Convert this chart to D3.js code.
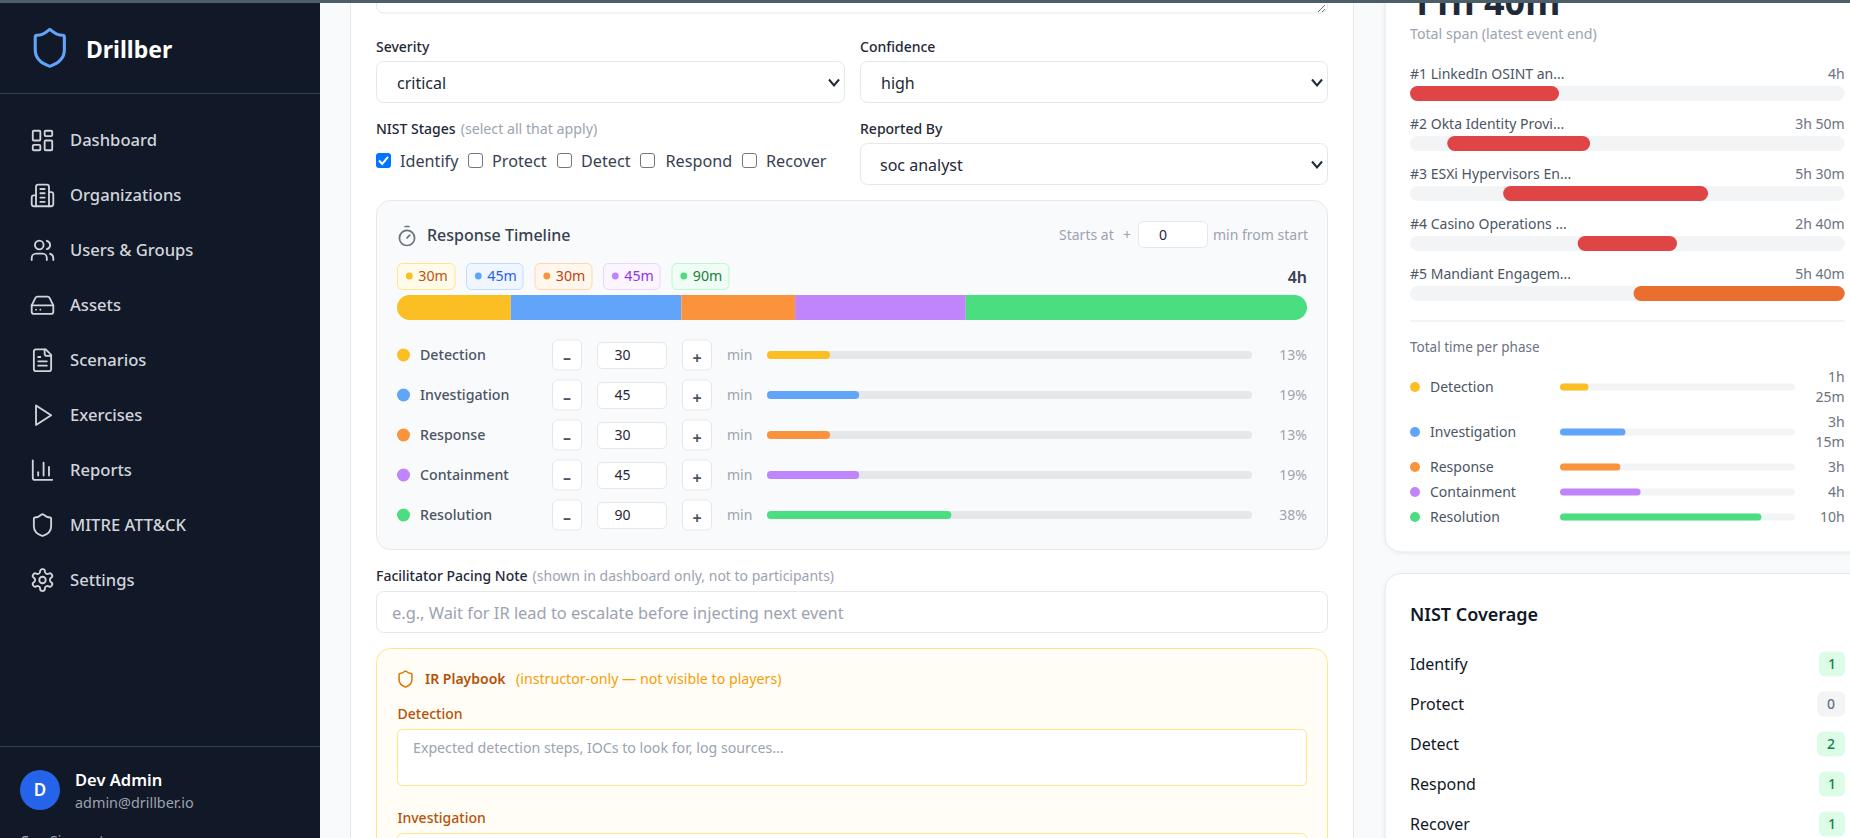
<!DOCTYPE html>
<html><head><meta charset="utf-8"><title>Drillber</title>
<script src="https://cdn.jsdelivr.net/npm/d3@7/dist/d3.min.js"></script>
<style>html,body{margin:0;padding:0;background:#f9fafb;overflow:hidden}svg{display:block}text{font-family:"Noto Sans",sans-serif}</style>
</head><body><div id="app"></div>
<script>
// ---- data ----
const navItems = ["Dashboard","Organizations","Users & Groups","Assets","Scenarios","Exercises","Reports","MITRE ATT&CK","Settings"];
const phases = ["Detection","Investigation","Response","Containment","Resolution"];
const phaseMinutes = [30,45,30,45,90];
const phaseChipLabels = ["30m","45m","30m","45m","90m"];
const phaseColors = ["#fbbf24","#60a5fa","#fb923c","#c084fc","#4ade80"];
const eventNames = ["#1 LinkedIn OSINT an...","#2 Okta Identity Provi...","#3 ESXi Hypervisors En...","#4 Casino Operations ...","#5 Mandiant Engagem..."];
const eventStarts = [0,60,150,270,360];
const eventDurations = [240,230,330,160,340];
const eventLabels = ["4h","3h 50m","5h 30m","2h 40m","5h 40m"];
const eventColors = ["#e04545","#e04545","#e04545","#e04545","#ea6e2e"];
const phaseTotals = [85,195,180,240,600];
const phaseTotalLabels = [["1h","25m"],["3h","15m"],["3h"],["4h"],["10h"]];
const nistStages = ["Identify","Protect","Detect","Respond","Recover"];
const nistCounts = [1,0,2,1,1];
const nistChecked = [true,false,false,false,false];

// ---- helpers ----
const svg = d3.select("#app").append("svg").attr("width",1850).attr("height",838).attr("viewBox","0 0 1850 838");
const defs = svg.append("defs");
function rect(x,y,w,h,o={}){return svg.append("rect").attr("x",x).attr("y",y).attr("width",w).attr("height",h)
  .attr("rx",o.r||0).attr("fill",o.fill||"none").attr("stroke",o.stroke||"none").attr("stroke-width",o.sw||1);}
function txt(x,cy,s,o={}){return svg.append("text").attr("x",x).attr("y",cy).attr("dy","0.35em").text(s)
  .attr("font-size",o.size||14).attr("font-weight",o.weight||400).attr("fill",o.fill||"#374151")
  .attr("text-anchor",o.anchor||"start");}
function icon(parts,cx,cy,scale,color,sw){
  const g=svg.append("g").attr("transform",`translate(${cx-12*scale},${cy-12*scale}) scale(${scale})`)
    .attr("fill","none").attr("stroke",color).attr("stroke-width",sw).attr("stroke-linecap","round").attr("stroke-linejoin","round");
  parts.forEach(p=>{
    if(p.r!==undefined) g.append("circle").attr("cx",p.cx).attr("cy",p.cy).attr("r",p.r);
    else if(p.w!==undefined) g.append("rect").attr("x",p.x).attr("y",p.y).attr("width",p.w).attr("height",p.h).attr("rx",1);
    else g.append("path").attr("d",p);
  });
}
function chevron(cx,cy){svg.append("path").attr("d",`M${cx-5},${cy-3}L${cx},${cy+3}L${cx+5},${cy-3}`).attr("fill","none").attr("stroke","#1f2937").attr("stroke-width",2);}
const shieldPath="M20 13c0 5-3.5 7.5-7.66 8.95a1 1 0 0 1-.67-.01C7.5 20.5 4 18 4 13V6a1 1 0 0 1 1-1c2 0 4.5-1.2 6.24-2.72a1.17 1.17 0 0 1 1.52 0C14.51 3.81 17 5 19 5a1 1 0 0 1 1 1z";
const navIcons=[
 [{x:3,y:3,w:7,h:9},{x:14,y:3,w:7,h:5},{x:14,y:12,w:7,h:9},{x:3,y:16,w:7,h:5}],
 ["M6 22V4a2 2 0 0 1 2-2h8a2 2 0 0 1 2 2v18Z","M6 12H4a2 2 0 0 0-2 2v6a2 2 0 0 0 2 2h2","M18 9h2a2 2 0 0 1 2 2v9a2 2 0 0 1-2 2h-2","M10 6h4","M10 10h4","M10 14h4","M10 18h4"],
 ["M16 21v-2a4 4 0 0 0-4-4H6a4 4 0 0 0-4 4v2",{cx:9,cy:7,r:4},"M22 21v-2a4 4 0 0 0-3-3.87","M16 3.13a4 4 0 0 1 0 7.75"],
 ["M22 12H2","M5.45 5.11 2 12v6a2 2 0 0 0 2 2h16a2 2 0 0 0 2-2v-6l-3.45-6.89A2 2 0 0 0 16.76 4H7.24a2 2 0 0 0-1.79 1.11z","M6 16h.01","M10 16h.01"],
 ["M15 2H6a2 2 0 0 0-2 2v16a2 2 0 0 0 2 2h12a2 2 0 0 0 2-2V7Z","M14 2v4a2 2 0 0 0 2 2h4","M10 9H8","M16 13H8","M16 17H8"],
 ["M6 3l14 9-14 9z"],
 ["M3 3v16a2 2 0 0 0 2 2h16","M18 17V9","M13 17V5","M8 17v-3"],
 [shieldPath],
 ["M12.22 2h-.44a2 2 0 0 0-2 2v.18a2 2 0 0 1-1 1.73l-.43.25a2 2 0 0 1-2 0l-.15-.08a2 2 0 0 0-2.73.73l-.22.38a2 2 0 0 0 .73 2.73l.15.1a2 2 0 0 1 1 1.72v.51a2 2 0 0 1-1 1.74l-.15.09a2 2 0 0 0-.73 2.73l.22.38a2 2 0 0 0 2.73.73l.15-.08a2 2 0 0 1 2 0l.43.25a2 2 0 0 1 1 1.73V20a2 2 0 0 0 2 2h.44a2 2 0 0 0 2-2v-.18a2 2 0 0 1 1-1.73l.43-.25a2 2 0 0 1 2 0l.15.08a2 2 0 0 0 2.73-.73l.22-.39a2 2 0 0 0-.73-2.73l-.15-.08a2 2 0 0 1-1-1.74v-.5a2 2 0 0 1 1-1.74l.15-.09a2 2 0 0 0 .73-2.73l-.22-.38a2 2 0 0 0-2.73-.73l-.15.08a2 2 0 0 1-2 0l-.43-.25a2 2 0 0 1-1-1.73V4a2 2 0 0 0-2-2z",{cx:12,cy:12,r:3}]
];

// page background
rect(0,0,1850,838,{fill:"#f9fafb"});

// ---- main card ----
rect(350.5,-40,1003,920,{fill:"#fff",stroke:"#e5e7eb",r:14});
rect(376.5,-30,951,43,{fill:"#fff",stroke:"#e5e7eb",r:7});
svg.append("path").attr("d","M1318,12L1325,5M1322,12L1325,9").attr("stroke","#6b7280").attr("stroke-width",1).attr("fill","none");

const labelC="#1f2937";
txt(376,47,"Severity",{weight:500,fill:labelC});
txt(860,47,"Confidence",{weight:500,fill:labelC});
rect(376.5,61.5,468,41,{fill:"#fff",stroke:"#e5e7eb",r:7});
rect(860.5,61.5,467,41,{fill:"#fff",stroke:"#e5e7eb",r:7});
txt(397,83.5,"critical",{size:16,fill:"#1f2937"}); chevron(834,82.5);
txt(881,83.5,"high",{size:16,fill:"#1f2937"}); chevron(1317,82.5);

const nistLabel=txt(376,129,"NIST Stages",{weight:500,fill:labelC});
nistLabel.append("tspan").attr("dx",5).attr("font-size",14.2).attr("font-weight",400).attr("fill","#9ca3af").text("(select all that apply)");
txt(860,129,"Reported By",{weight:500,fill:labelC});
rect(860.5,143.5,467,41,{fill:"#fff",stroke:"#e5e7eb",r:7});
txt(880,165.5,"soc analyst",{size:16,fill:"#1f2937"}); chevron(1317,164.5);

const checkBoxXs=[376,468,557,640,742], checkTextXs=[400,492,581,665.5,766];
nistStages.forEach((s,i)=>{
  if(nistChecked[i]){
    rect(checkBoxXs[i],153,15,15,{fill:"#0075ff",r:3});
    svg.append("path").attr("d",`M${checkBoxXs[i]+3},160.5l3.2,3.4l5.8,-7`).attr("fill","none").attr("stroke","#fff").attr("stroke-width",2);
  } else rect(checkBoxXs[i]+.5,153.5,14,14,{fill:"#fff",stroke:"#767676",r:2.5});
  txt(checkTextXs[i],161.5,s,{size:16.2,fill:"#374151"});
});

// ---- response timeline panel ----
rect(376.5,200.5,951,349,{fill:"#f9fafb",stroke:"#e5e7eb",r:14});
icon(["M10 2h4","M12 14l3-3",{cx:12,cy:14,r:8}],407,236,.95,"#6b7280",1.8);
txt(427,235.5,"Response Timeline",{size:16,weight:500,fill:"#374151"});
txt(1059,235.5,"Starts at",{size:14,fill:"#9ca3af"});
txt(1127,235.5,"+",{size:14,fill:"#9ca3af",anchor:"middle"});
rect(1138.5,221.5,69,26,{fill:"#fff",stroke:"#e5e7eb",r:5});
txt(1163,235.5,"0",{size:14,fill:"#1f2937",anchor:"middle"});
txt(1213,235.5,"min from start",{size:14,fill:"#9ca3af"});

const chipStyles=[["#fffbeb","#fde68a","#c2510c"],["#eff6ff","#bfdbfe","#2563eb"],["#fff7ed","#fed7aa","#c2410c"],["#faf5ff","#e9d5ff","#9333ea"],["#f0fdf4","#bbf7d0","#15803d"]];
const chipXs=[397,466,534.5,603,671.5], chipWs=[58.5,57.5,58,57.5,58];
phaseChipLabels.forEach((l,i)=>{
  rect(chipXs[i]+.5,263.5,chipWs[i]-1,26,{fill:chipStyles[i][0],stroke:chipStyles[i][1],r:5});
  svg.append("circle").attr("cx",chipXs[i]+12.3).attr("cy",276).attr("r",3.4).attr("fill",phaseColors[i]);
  txt(chipXs[i]+21.3,276.5,l,{size:14.2,fill:chipStyles[i][2]});
});
txt(1307,277.5,"4h",{size:16,weight:600,fill:"#374151",anchor:"end"});

// stacked bar
const stackX=d3.scaleLinear().domain([0,d3.sum(phaseMinutes)]).range([397,1307]);
const cum=[0,...d3.cumsum(phaseMinutes)];
defs.append("clipPath").attr("id","stackClip").append("rect").attr("x",stackX.range()[0]).attr("y",295).attr("width",stackX.range()[1]-stackX.range()[0]).attr("height",25).attr("rx",12.5);
svg.append("g").attr("clip-path","url(#stackClip)").selectAll("rect").data(phaseMinutes).join("rect")
  .attr("x",(d,i)=>stackX(cum[i])).attr("y",295).attr("width",d=>stackX(d)-stackX(0)).attr("height",25)
  .attr("fill",(d,i)=>phaseColors[i]);

// phase rows
const rowY=d3.scalePoint().domain(phases).range([355,515]);
const pctX=d3.scaleLinear().domain([0,100]).range([767,1252]);
const total=d3.sum(phaseMinutes);
phases.forEach((p,i)=>{
  const y=rowY(p), pct=Math.round(phaseMinutes[i]/total*100);
  svg.append("circle").attr("cx",403.5).attr("cy",y).attr("r",6.5).attr("fill",phaseColors[i]);
  txt(420,y+.5,p,{size:14.2,weight:500,fill:"#4b5563"});
  rect(552.5,y-15,29,30,{fill:"#fff",stroke:"#e5e7eb",r:5});
  txt(567,y+2.5,"–",{size:16,weight:700,fill:"#4b5563",anchor:"middle"});
  rect(597.5,y-12.5,69,26,{fill:"#fff",stroke:"#e5e7eb",r:5});
  txt(622.5,y+.5,phaseMinutes[i],{size:14,fill:"#1f2937",anchor:"middle"});
  rect(682.5,y-15,29,30,{fill:"#fff",stroke:"#e5e7eb",r:5});
  txt(697,y+3.5,"+",{size:16,weight:700,fill:"#4b5563",anchor:"middle"});
  txt(727,y+.5,"min",{size:14,fill:"#9ca3af"});
  rect(pctX(0),y-4,pctX(100)-pctX(0),8,{fill:"#e5e7eb",r:4});
  rect(pctX(0),y-4,pctX(pct)-pctX(0),8,{fill:phaseColors[i],r:4});
  txt(1307,y+.5,pct+"%",{size:14,fill:"#9ca3af",anchor:"end"});
});

// pacing note
const pn=txt(376,576.3,"Facilitator Pacing Note",{weight:500,fill:labelC});
pn.append("tspan").attr("dx",5).attr("font-size",14).attr("font-weight",400).attr("fill","#9ca3af").text("(shown in dashboard only, not to participants)");
rect(376.5,591.5,951,41,{fill:"#fff",stroke:"#e5e7eb",r:7});
txt(392,613.3,"e.g., Wait for IR lead to escalate before injecting next event",{size:16.4,fill:"#9ca3af"});

// playbook
rect(376.5,648.5,951,240,{fill:"#fffdf5",stroke:"#fde68a",r:14});
icon([shieldPath],405.5,679,.8,"#d97706",1.9);
txt(425,679.3,"IR Playbook",{size:14,weight:600,fill:"#b45309"});
txt(516,679.3,"(instructor-only — not visible to players)",{size:14.2,fill:"#f59e0b"});
txt(397.5,714.3,"Detection",{size:14,weight:500,fill:"#b45309"});
rect(397.5,729.5,909,56,{fill:"#fff",stroke:"#fde68a",r:5});
txt(413,748.3,"Expected detection steps, IOCs to look for, log sources...",{size:14.2,fill:"#9ca3af"});
txt(397.5,818.3,"Investigation",{size:14,weight:500,fill:"#b45309"});
rect(397.5,833.5,909,56,{fill:"#fff",stroke:"#fde68a",r:5});

// ---- right column: span card ----
const cardF=defs.append("filter").attr("id","soft").attr("x","-5%").attr("y","-5%").attr("width","110%").attr("height","110%");
cardF.append("feDropShadow").attr("dx",0).attr("dy",1).attr("stdDeviation",2).attr("flood-color","#000").attr("flood-opacity",.06);
rect(1385,-40,520,592,{fill:"#fff",stroke:"#e5e7eb",r:16}).attr("filter","url(#soft)");
txt(1410,2.4,"11h 40m",{size:36,weight:700,fill:"#1f2937"});
txt(1410,33.7,"Total span (latest event end)",{size:14.2,fill:"#9ca3af"});

const spanX=d3.scaleLinear().domain([0,700]).range([1410,1844.7]);
const evY=d3.scalePoint().domain(eventNames).range([86,286]);
eventNames.forEach((n,i)=>{
  const y=evY(n);
  txt(1410,y-12.3,n,{size:14,fill:"#4b5563"});
  txt(1844.7,y-12.3,eventLabels[i],{size:14,fill:"#6b7280",anchor:"end"});
  rect(spanX(0),y,spanX(700)-spanX(0),15,{fill:"#f3f4f6",r:7.5});
  rect(spanX(eventStarts[i]),y,spanX(eventDurations[i])-spanX(0),15,{fill:eventColors[i],r:7.5});
});
rect(1410,320.5,434.7,1,{fill:"#e5e7eb"});
txt(1410,347.2,"Total time per phase",{size:13.5,fill:"#6b7280"});

const phaseX=d3.scaleLinear().domain([0,700]).range([1560,1795]);
const phaseRowYs=[387,432,467,492,517];
phases.forEach((p,i)=>{
  const y=phaseRowYs[i];
  svg.append("circle").attr("cx",1415).attr("cy",y).attr("r",5).attr("fill",phaseColors[i]);
  txt(1430,y+.5,p,{size:14,fill:"#4b5563"});
  rect(phaseX(0),y-3.5,phaseX(700)-phaseX(0),7,{fill:"#f3f4f6",r:3.5});
  rect(phaseX(0),y-3.5,phaseX(phaseTotals[i])-phaseX(0),7,{fill:phaseColors[i],r:3.5});
  const ls=phaseTotalLabels[i];
  ls.forEach((l,j)=>txt(1844.7,ls.length===2?y-9.5+20*j:y+.5,l,{size:14,fill:"#6b7280",anchor:"end"}));
});

// ---- right column: NIST coverage ----
rect(1385,573.5,520,320,{fill:"#fff",stroke:"#e5e7eb",r:16}).attr("filter","url(#soft)");
txt(1410,615,"NIST Coverage",{size:18,weight:600,fill:"#111827"});
const covY=d3.scalePoint().domain(nistStages).range([664,824]);
nistStages.forEach((s,i)=>{
  const y=covY(s), c=nistCounts[i], w=c===1?26:28, on=c>0;
  txt(1410,y,s,{size:16,fill:"#111827"});
  rect(1845-w,y-12.5,w,25,{fill:on?"#dcfce7":"#f3f4f6",r:6});
  txt(1845-w/2,y,c,{size:14,weight:500,fill:on?"#15803d":"#6b7280",anchor:"middle"});
});

// ---- sidebar ----
rect(0,0,320,838,{fill:"#111827"});
icon([shieldPath],49.8,48,1.82,"#60a5fa",1.7);
txt(86,50,"Drillber",{size:23,weight:700,fill:"#fff"});
rect(0,93,320,1,{fill:"#374151"});
const navY=d3.scalePoint().domain(navItems).range([140.5,580]);
navItems.forEach((n,i)=>{
  icon(navIcons[i],42.5,navY(n),1.08,"#d1d5db",1.7);
  txt(70,navY(n),n,{size:16.6,weight:500,fill:"#d1d5db"});
});
rect(0,746,320,1,{fill:"#374151"});
svg.append("circle").attr("cx",40).attr("cy",790).attr("r",20).attr("fill","#2563eb");
txt(40,790,"D",{size:17,weight:600,fill:"#fff",anchor:"middle"});
txt(75,780.5,"Dev Admin",{size:16.5,weight:600,fill:"#fff"});
txt(75,802.5,"admin@drillber.io",{size:14.4,fill:"#9ca3af"});
icon(["M9 21H5a2 2 0 0 1-2-2V5a2 2 0 0 1 2-2h4","M16 17l5-5-5-5","M21 12H9"],30,844,.8,"#9ca3af",1.8);
txt(50,841,"Sign out",{size:14,fill:"#9ca3af"});

// top strip
rect(0,0,1850,3,{fill:"#4a5f6a"});
</script></body></html>
